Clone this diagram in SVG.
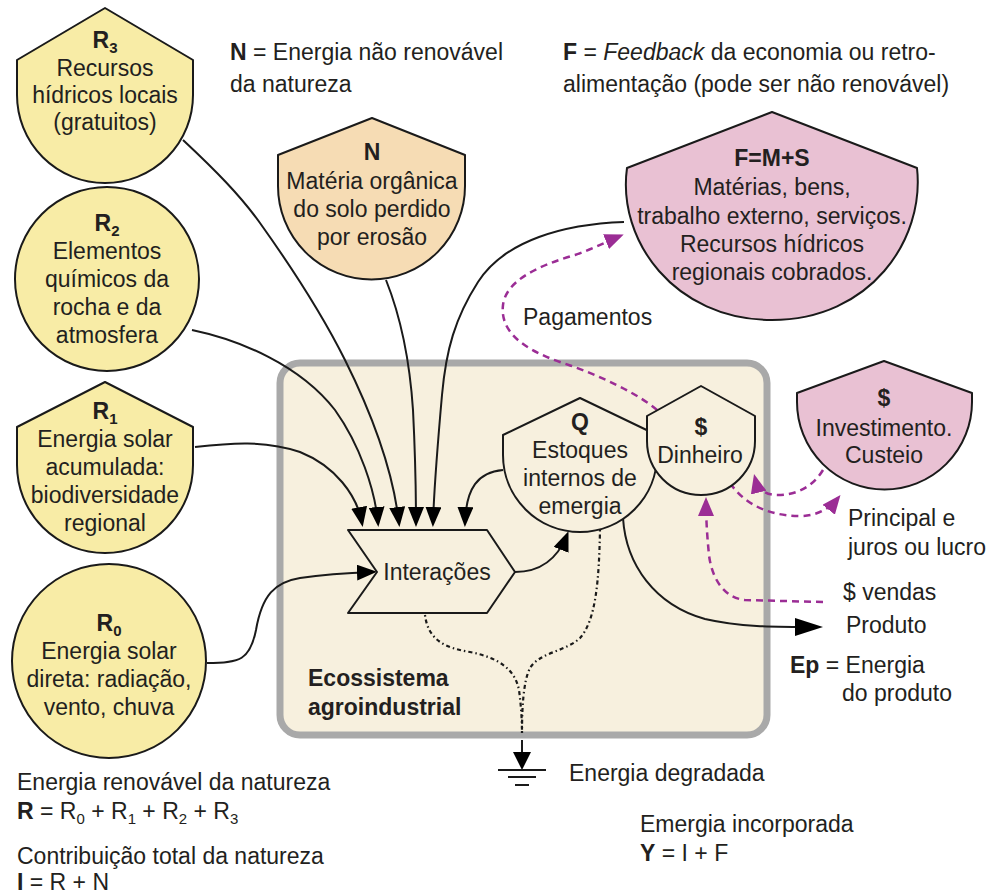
<svg xmlns="http://www.w3.org/2000/svg" width="990" height="895" viewBox="0 0 990 895">
  <style>
    text { font-family: "Liberation Sans", Arial, Helvetica, sans-serif; font-size: 23px; fill: #231f20; }
    .c { text-anchor: middle; }
    .b { font-weight: bold; }
    .sub { font-size: 15px; }
    .shape { stroke: #1a1a1a; stroke-width: 2; stroke-linejoin: round; }
    .ren { fill: #f8eca6; }
    .nren { fill: #f6dcb4; }
    .eco { fill: #e9c1d3; }
    .inner { fill: #f7f0de; }
    .flow { fill: none; stroke: #1a1a1a; stroke-width: 2; }
    .loss { fill: none; stroke: #1a1a1a; stroke-width: 2.2; stroke-dasharray: 1.5 3 4 3; }
    .money { fill: none; stroke: #9b2d95; stroke-width: 2.5; stroke-dasharray: 7 5; }
  </style>
  <defs>
    <marker id="ah" markerUnits="userSpaceOnUse" markerWidth="20" markerHeight="16" refX="16" refY="8" orient="auto">
      <path d="M0,0 L20,8 L0,16 Z" fill="#000"/>
    </marker>
    <marker id="ahBig" markerUnits="userSpaceOnUse" markerWidth="28" markerHeight="18" refX="24" refY="9" orient="auto">
      <path d="M0,0 L28,9 L0,18 Z" fill="#000"/>
    </marker>
    <marker id="ahP" markerUnits="userSpaceOnUse" markerWidth="19" markerHeight="16" refX="15" refY="8" orient="auto">
      <path d="M0,0 L19,8 L0,16 Z" fill="#9b2d95"/>
    </marker>
  </defs>

  <!-- system boundary -->
  <g id="ecossistema">
    <rect x="280" y="363" width="487" height="372" rx="20" fill="#f7f0de" stroke="#a9a9a9" stroke-width="7"/>
    <text x="308" y="686" class="b">Ecossistema</text>
    <text x="308" y="715" class="b">agroindustrial</text>
  </g>

  <!-- flows -->
  <g id="connectors">
    <path class="flow" d="M195,447 C230,443 265,440 300,452 C335,466 357,495 362,523" marker-end="url(#ah)"/>
    <path class="flow" d="M192,330 C240,340 300,365 335,410 C360,445 375,490 378,523" marker-end="url(#ah)"/>
    <path class="flow" d="M183,140 C215,170 240,195 260,223 C290,265 320,310 345,360 C370,410 393,470 399,523" marker-end="url(#ah)"/>
    <path class="flow" d="M386,280 C402,320 410,365 413,410 C415,450 416,490 416,523" marker-end="url(#ah)"/>
    <path class="flow" d="M624,222 C565,224 505,240 478,282 C455,318 446,350 442,395 C438,440 434,490 433,523" marker-end="url(#ah)"/>
    <path class="flow" d="M503,470 C478,472 466,488 465,523" marker-end="url(#ah)"/>
    <path class="flow" d="M207,663 C240,663 250,660 256,630 C262,595 275,582 300,578 C320,575 345,573 373,572" marker-end="url(#ah)"/>
    <path class="flow" d="M515,572 C540,572 557,560 567,535" marker-end="url(#ah)"/>
    <path class="flow" d="M623,518 C626,565 655,605 705,619 C740,627 770,627 819,627" marker-end="url(#ahBig)"/>

    <!-- degraded energy -->
    <path class="loss" d="M425,615 C428,640 445,648 470,652 C500,658 515,670 519,690 C521,705 522,720 522,733"/>
    <path class="loss" d="M600,530 C599,580 596,620 580,638 C565,652 540,652 530,668 C523,682 522,710 522,733"/>
    <path class="flow" d="M522,740 L522,756"/>
    <path d="M513,752 L531,752 L522,770 Z" fill="#000"/>
    <path class="flow" d="M498,770 L546,770 M508,777 L536,777 M515,785 L529,785"/>

    <!-- money -->
    <path class="money" d="M657,410 C640,395 600,375 560,362 C520,348 500,330 503,305 C506,280 540,265 575,255 C595,248 610,240 620,236" marker-end="url(#ahP)"/>
    <path class="money" d="M823,470 C812,488 795,495 778,495 C766,495 758,490 755,478" marker-end="url(#ahP)"/>
    <path class="money" d="M730,483 C745,505 770,516 800,516 C818,516 830,508 838,498" marker-end="url(#ahP)"/>
    <path class="money" d="M823,602 L745,600 C725,598 712,580 709,555 C707,535 706,518 706,501" marker-end="url(#ahP)"/>
  </g>

  <g id="R3">
    <path class="shape ren" d="M105,8 L193,60 L193,95 A88,88 0 0 1 17,95 L17,60 Z"/>
    <text x="105" y="48" class="c b">R<tspan class="sub" dy="5">3</tspan></text>
    <text x="105" y="76" class="c">Recursos</text>
    <text x="105" y="103" class="c">hídricos locais</text>
    <text x="105" y="130" class="c">(gratuitos)</text>
  </g>

  <g id="R2">
    <circle class="shape ren" cx="107" cy="279" r="92"/>
    <text x="107" y="231" class="c b">R<tspan class="sub" dy="5">2</tspan></text>
    <text x="107" y="259" class="c">Elementos</text>
    <text x="107" y="287" class="c">químicos da</text>
    <text x="107" y="315" class="c">rocha e da</text>
    <text x="107" y="343" class="c">atmosfera</text>
  </g>

  <g id="R1">
    <path class="shape ren" d="M105,382 L193,427 L193,465 A88,88 0 0 1 17,465 L17,427 Z"/>
    <text x="105" y="419" class="c b">R<tspan class="sub" dy="5">1</tspan></text>
    <text x="105" y="447" class="c">Energia solar</text>
    <text x="105" y="475" class="c">acumulada:</text>
    <text x="105" y="503" class="c">biodiversidade</text>
    <text x="105" y="531" class="c">regional</text>
  </g>

  <g id="R0">
    <circle class="shape ren" cx="109" cy="661" r="97"/>
    <text x="109" y="631" class="c b">R<tspan class="sub" dy="5">0</tspan></text>
    <text x="109" y="659" class="c">Energia solar</text>
    <text x="109" y="687" class="c">direta: radiação,</text>
    <text x="109" y="715" class="c">vento, chuva</text>
  </g>

  <g id="N">
    <path class="shape nren" d="M372,118 L465,155 L465,186 A93.5,93.5 0 0 1 278,186 L278,155 Z"/>
    <text x="372" y="160" class="c b">N</text>
    <text x="372" y="189" class="c">Matéria orgânica</text>
    <text x="372" y="217" class="c">do solo perdido</text>
    <text x="372" y="245" class="c">por erosão</text>
  </g>

  <g id="F">
    <path class="shape eco" d="M772,112 L917,168 C925,240 870,320 772,320 C674,320 617,240 627,168 Z"/>
    <text x="772" y="166" class="c b">F=M+S</text>
    <text x="772" y="195" class="c">Matérias, bens,</text>
    <text x="772" y="224" class="c">trabalho externo, serviços.</text>
    <text x="772" y="252" class="c">Recursos hídricos</text>
    <text x="772" y="280" class="c">regionais cobrados.</text>
  </g>

  <g id="investimento">
    <path class="shape eco" d="M884,361 L972,393 L972,402 A87.5,87.5 0 0 1 797,402 L797,393 Z"/>
    <text x="884" y="406" class="c b">$</text>
    <text x="884" y="436" class="c">Investimento.</text>
    <text x="884" y="463" class="c">Custeio</text>
  </g>

  <g id="Q">
    <path class="shape inner" d="M580,398 L657,435 L657,455 A77,77 0 0 1 503,455 L503,435 Z"/>
    <text x="580" y="430" class="c b">Q</text>
    <text x="580" y="458" class="c">Estoques</text>
    <text x="580" y="486" class="c">internos de</text>
    <text x="580" y="514" class="c">emergia</text>
  </g>

  <g id="dinheiro">
    <path class="shape inner" d="M701,386 L755,416 L755,441 A54,54 0 0 1 647,441 L647,416 Z"/>
    <text x="701" y="435" class="c b">$</text>
    <text x="700" y="463" class="c">Dinheiro</text>
  </g>

  <g id="interacoes">
    <path class="shape inner" d="M348,530 L487,530 L515,572 L487,613 L348,613 L377,572 Z"/>
    <text x="437" y="580" class="c">Interações</text>
  </g>

  <!-- labels -->
  <g id="labels">
    <text x="230" y="60"><tspan class="b">N</tspan> = Energia não renovável</text>
    <text x="230" y="92">da natureza</text>
    <text x="563" y="60"><tspan class="b">F</tspan> = <tspan font-style="italic">Feedback</tspan> da economia ou retro-</text>
    <text x="563" y="92">alimentação (pode ser não renovável)</text>
    <text x="523" y="325">Pagamentos</text>
    <text x="848" y="526">Principal e</text>
    <text x="848" y="555">juros ou lucro</text>
    <text x="843" y="600">$ vendas</text>
    <text x="846" y="633">Produto</text>
    <text x="790" y="673"><tspan class="b">Ep</tspan> = Energia</text>
    <text x="842" y="701">do produto</text>
    <text x="569" y="781">Energia degradada</text>
    <text x="17" y="790">Energia renovável da natureza</text>
    <text x="17" y="819"><tspan class="b">R</tspan> = R<tspan class="sub" dy="5">0</tspan><tspan dy="-5"> + R</tspan><tspan class="sub" dy="5">1</tspan><tspan dy="-5"> + R</tspan><tspan class="sub" dy="5">2</tspan><tspan dy="-5"> + R</tspan><tspan class="sub" dy="5">3</tspan></text>
    <text x="17" y="864">Contribuição total da natureza</text>
    <text x="17" y="890"><tspan class="b">I</tspan> = R + N</text>
    <text x="640" y="832">Emergia incorporada</text>
    <text x="640" y="861"><tspan class="b">Y</tspan> = I + F</text>
  </g>
</svg>
